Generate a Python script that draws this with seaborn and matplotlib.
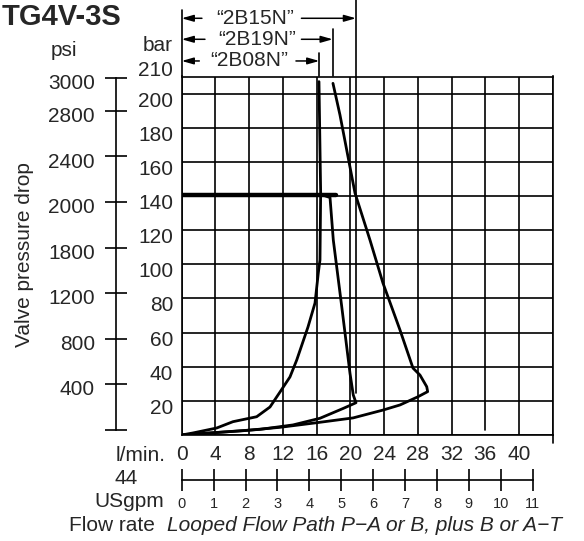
import numpy as np
import pandas as pd
import matplotlib
matplotlib.use("Agg")
import matplotlib.pyplot as plt
import matplotlib.transforms as mtransforms
import seaborn as sns

# ---------------- data ----------------
flow_2B08N = [16.28, 16.48, 16.40, 16.20, 15.81, 14.98, 13.64, 12.84, 11.66, 10.47, 8.89, 6.08, 4.15, 1.34, 0.0]
bar_2B08N = [207.0, 141.8, 102.5, 94.9, 77.3, 63.3, 43.9, 34.0, 25.2, 16.4, 10.7, 7.8, 4.1, 1.2, 0.0]

flow_2B19N = [17.94, 18.77, 20.55, 22.33, 23.87, 25.89, 27.43, 28.26, 29.06, 29.17, 28.02, 25.89, 23.87, 20.32, 16.01, 11.66, 7.27, 3.36, 0.0]
bar_2B19N = [206.0, 187.5, 141.8, 114.2, 89.0, 61.5, 39.2, 35.1, 28.3, 25.4, 22.4, 17.6, 14.6, 10.0, 7.2, 4.5, 2.5, 1.2, 0.0]

flow_2B15N = [16.52, 17.59, 17.98, 18.98, 19.96, 20.35, 20.67, 19.17, 16.40, 13.20, 9.29, 5.34, 0.0]
bar_2B15N = [140.9, 139.1, 114.2, 75.2, 36.1, 23.4, 18.9, 15.6, 9.8, 5.9, 3.3, 1.9, 0.0]

relief_flow = [0.0, 18.25]
relief_bar = [140.5, 140.5]

lpm_ticks = list(range(0, 45, 4))
lpm_labels = [str(v) for v in range(0, 41, 4)] + [""]
bar_ticks = list(range(0, 201, 20))
bar_labels = [""] + [str(v) for v in range(20, 201, 20)]
psi_labels = ["", "400", "800", "1200", "1800", "2000", "2400", "2800", "3000"]
psi_pos_bar = [2.9, 29.9, 56.4, 83.2, 109.7, 136.5, 163.4, 190.0, 209.3]
gpm_ticks = list(range(0, 12))
LPM_PER_GPM = 3.785

marker_names = ["2B15N", "2B19N", "2B08N"]
marker_limits = [20.67, 17.91, 16.32]

# ---------------- style ----------------
sns.set_style("white")
plt.rcParams["font.family"] = ["Liberation Sans", "DejaVu Sans"]
FS = 15

W, H = 584, 541
fig = plt.figure(figsize=(W / 100, H / 100), dpi=100)


def fx(x):
    return x / W


def fy(y):
    return 1 - y / H


LW_GRID = 1.2
ax = fig.add_axes([fx(181.7), fy(435), 371 / W, 358.5 / H])
ax.set_xlim(0, 44)
ax.set_ylim(0, 210)

df = pd.DataFrame({
    "flow": flow_2B08N + flow_2B19N + flow_2B15N,
    "bar": bar_2B08N + bar_2B19N + bar_2B15N,
    "valve": ["2B08N"] * len(flow_2B08N) + ["2B19N"] * len(flow_2B19N) + ["2B15N"] * len(flow_2B15N),
})
sns.lineplot(data=df, x="flow", y="bar", hue="valve", units="valve", estimator=None,
             sort=False, palette={"2B08N": "black", "2B19N": "black", "2B15N": "black"},
             lw=2.0, legend=False, ax=ax, zorder=5)
sns.lineplot(x=relief_flow, y=relief_bar, color="black", lw=3.2, ax=ax, zorder=6)

ax.set_xticks(lpm_ticks)
ax.set_xticklabels(lpm_labels)
ax.set_yticks(bar_ticks)
ax.set_yticklabels(bar_labels)
ax.grid(True, color="black", lw=LW_GRID)
ax.tick_params(axis="both", length=0, labelsize=FS)
ax.tick_params(axis="x", pad=7.0)
ax.tick_params(axis="y", pad=6)
for lbl in ax.get_yticklabels():
    lbl.set_verticalalignment("top")
    lbl.set_transform(lbl.get_transform() + mtransforms.ScaledTranslation(0, 2 / 100, fig.dpi_scale_trans))
ax.set_xlabel("")
ax.set_ylabel("")
for s in ax.spines.values():
    s.set_color("black")
    s.set_linewidth(LW_GRID)

# short gridline at 36 l/min
gl = ax.get_xgridlines()
gl[lpm_ticks.index(36)].set_visible(False)
ax.plot([36, 36], [2.9, 210], color="black", lw=LW_GRID)
# right spine extends a little below
ax.plot([44, 44], [0, -4.7], color="black", lw=LW_GRID, clip_on=False)
# left extension line above the grid
ax.plot([0, 0], [210, 249], color="black", lw=LW_GRID, clip_on=False)

# dimension markers
dim_y = [244.1, 231.8, 219.1]
left_ends = [2.4, 2.76, 2.09]
right_starts = [14.2, 14.2, 13.55]
text_centers = [8.68, 8.99, 8.0]
marker_tops = [256, 237.6, 224.0]
marker_bottoms = [24.6, 210, 210]
astyle = "-|>,head_length=0.7,head_width=0.2"
for name, lim, yb, le, rs, tc, mt, mb in zip(marker_names, marker_limits, dim_y, left_ends,
                                              right_starts, text_centers, marker_tops, marker_bottoms):
    ax.annotate("", xy=(0, yb), xytext=(le, yb), annotation_clip=False,
                arrowprops=dict(arrowstyle=astyle, color="black", lw=1.1, shrinkA=0, shrinkB=0,
                                mutation_scale=10))
    ax.annotate("", xy=(lim, yb), xytext=(rs, yb), annotation_clip=False,
                arrowprops=dict(arrowstyle=astyle, color="black", lw=1.1, shrinkA=0, shrinkB=0,
                                mutation_scale=10))
    ax.text(tc, yb, f"\u201c{name}\u201d", ha="center", va="center", fontsize=FS, clip_on=False)
    ax.plot([lim, lim], [mb, mt], color="black", lw=LW_GRID, clip_on=False)

# psi axis
axp = fig.add_axes([fx(116), fy(435), 0.0005, 358.5 / H])
axp.set_ylim(0, 210)
axp.patch.set_visible(False)
for k in ["right", "top", "bottom"]:
    axp.spines[k].set_visible(False)
axp.spines["left"].set_bounds(psi_pos_bar[0], psi_pos_bar[-1])
axp.spines["left"].set_linewidth(LW_GRID)
axp.spines["left"].set_color("black")
axp.set_xticks([])
axp.set_yticks(psi_pos_bar)
axp.set_yticklabels(psi_labels)
axp.tick_params(axis="y", left=True, direction="inout", length=16, width=LW_GRID,
                color="black", labelsize=FS, pad=7.2)
for lbl in axp.get_yticklabels():
    lbl.set_transform(lbl.get_transform() + mtransforms.ScaledTranslation(0, -4 / 100, fig.dpi_scale_trans))

# USgpm axis
axg = fig.add_axes([fx(181.7), fy(480), 371 / W, 0.0005])
axg.set_xlim(0, 44 / LPM_PER_GPM)
axg.patch.set_visible(False)
for k in ["left", "right", "top"]:
    axg.spines[k].set_visible(False)
axg.spines["bottom"].set_bounds(gpm_ticks[0], gpm_ticks[-1])
axg.spines["bottom"].set_linewidth(LW_GRID)
axg.spines["bottom"].set_color("black")
axg.set_yticks([])
axg.set_xticks(gpm_ticks)
axg.set_xticklabels([str(v) for v in gpm_ticks])
axg.tick_params(axis="x", bottom=True, direction="inout", length=16, width=LW_GRID,
                color="black", labelsize=10.5, pad=4)

# texts
fig.text(fx(121), fy(25), "TG4V-3S", fontsize=21, fontweight="bold", ha="right", va="baseline")
fig.text(fx(64), fy(56), "psi", fontsize=FS, ha="center", va="baseline")
fig.text(fx(173), fy(50.7), "bar", fontsize=FS, ha="right", va="baseline")
fig.text(fx(173), fy(75.7), "210", fontsize=FS, ha="right", va="baseline")
fig.text(fx(25), fy(255), "Valve pressure drop", fontsize=FS, rotation=90, ha="center", va="center")
fig.text(fx(166), fy(461), "l/min.", fontsize=FS, ha="right", va="baseline")
fig.text(fx(138), fy(484.3), "44", fontsize=FS, ha="right", va="baseline")
fig.text(fx(164), fy(507), "USgpm", fontsize=FS, ha="right", va="baseline")
fig.text(fx(155), fy(531), "Flow rate", fontsize=FS, ha="right", va="baseline")
fig.text(fx(167), fy(531), "Looped Flow Path P\u2212A or B, plus B or A\u2212T", fontsize=15,
         style="italic", ha="left", va="baseline")

fig.savefig("out.png", dpi=100)
